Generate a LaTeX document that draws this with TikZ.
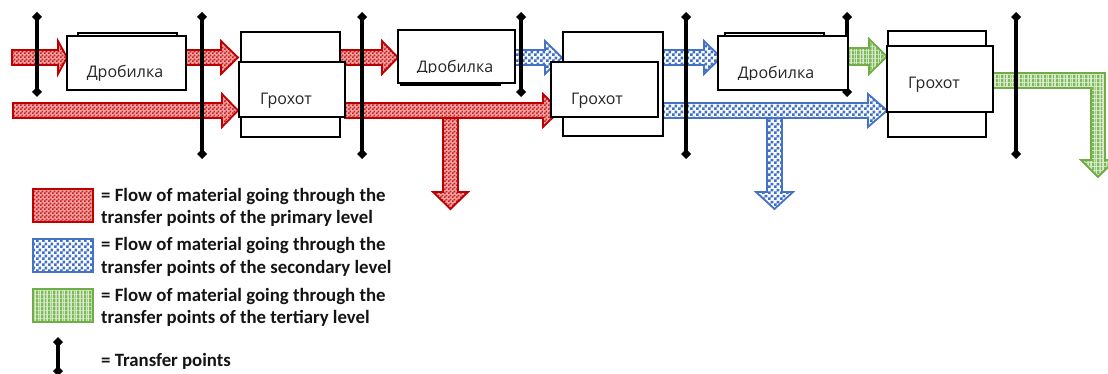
\documentclass[tikz,border=0pt]{standalone}
\usepackage{fontspec}
\setmainfont{Open Sans}
\newfontfamily\legendfont{Carlito}
\usetikzlibrary{patterns,arrows.meta}

\definecolor{redline}{HTML}{C00000}
\definecolor{redfill}{HTML}{F0A3A3}
\definecolor{redcheck}{HTML}{CC1E1E}
\definecolor{blueline}{HTML}{4472C4}
\definecolor{bluefill}{HTML}{FAFCFF}
\definecolor{bluecheck}{HTML}{3F6EC6}
\definecolor{greenline}{HTML}{70AD47}
\definecolor{greenfill}{HTML}{D9EBCD}
\definecolor{greenstripe}{HTML}{7DB859}
\definecolor{labelgray}{HTML}{262626}

% fine checkerboard, 2pt cells
\pgfdeclarepatternformonly{smallcheck}{\pgfpointorigin}{\pgfpoint{4pt}{4pt}}{\pgfpoint{4pt}{4pt}}{%
  \pgfpathrectangle{\pgfpointorigin}{\pgfpoint{2pt}{2pt}}%
  \pgfpathrectangle{\pgfpoint{2pt}{2pt}}{\pgfpoint{2pt}{2pt}}%
  \pgfusepath{fill}}
% coarse checkerboard, 3pt cells
\pgfdeclarepatternformonly{largecheck}{\pgfpointorigin}{\pgfpoint{6pt}{6pt}}{\pgfpoint{6pt}{6pt}}{%
  \pgfpathrectangle{\pgfpointorigin}{\pgfpoint{3pt}{3pt}}%
  \pgfpathrectangle{\pgfpoint{3pt}{3pt}}{\pgfpoint{3pt}{3pt}}%
  \pgfusepath{fill}}
% irregular vertical stripes
\pgfdeclarepatternformonly{barcode}{\pgfpointorigin}{\pgfpoint{12pt}{4pt}}{\pgfpoint{12pt}{4pt}}{%
  \pgfpathrectangle{\pgfpointorigin}{\pgfpoint{2pt}{4pt}}%
  \pgfpathrectangle{\pgfpoint{3pt}{0pt}}{\pgfpoint{1pt}{4pt}}%
  \pgfpathrectangle{\pgfpoint{5.5pt}{0pt}}{\pgfpoint{2.5pt}{4pt}}%
  \pgfpathrectangle{\pgfpoint{9.5pt}{0pt}}{\pgfpoint{1.5pt}{4pt}}%
  \pgfusepath{fill}}

\begin{document}
\begin{tikzpicture}[x=1pt,y=-1pt,
  primary/.style={preaction={fill=redfill}, pattern=smallcheck, pattern color=redcheck,
                  draw=redline, line width=1.8pt, miter limit=20},
  secondary/.style={preaction={fill=bluefill}, pattern=largecheck, pattern color=bluecheck,
                  draw=blueline, line width=1.8pt, miter limit=20},
  tertiary/.style={preaction={fill=greenfill}, pattern=barcode, pattern color=greenstripe,
                  draw=greenline, line width=1.8pt, miter limit=20},
  transfer/.style={line width=3.6pt, arrows={Turned Square[length=10pt,width=10pt]-Turned Square[length=10pt,width=10pt]}},
  backbox/.style={draw=black, line width=2.2pt, fill=white, inner sep=0pt, outer sep=0pt, anchor=north west},
  frontbox/.style={draw=black, line width=1.2pt, fill=white, inner sep=0pt, outer sep=0pt, anchor=north west},
  unit/.style={font=\fontsize{16}{19}\selectfont, text=labelgray, inner sep=0pt, anchor=base},
  legendtext/.style={font=\legendfont\bfseries\fontsize{18.8}{22}\selectfont, text=black!92, inner sep=0pt, anchor=base west},
]
\useasboundingbox (0,0) rectangle (1108,374);
\clip (0,0) rectangle (1108,374);

% ---- side branches (drawn first, the main streams pass over them)
\draw[primary]   (443,112) -- (443,192) -- (433,192) -- (450.5,209) -- (468,192) -- (458,192) -- (458,112) -- cycle;
\draw[secondary] (767,112) -- (767,192) -- (756,192) -- (774.5,209) -- (793,192) -- (782,192) -- (782,112) -- cycle;

% ---- primary streams
\draw[primary] (12,50) -- (58,50) -- (58,41) -- (67,57.5) -- (58,74) -- (58,65) -- (12,65) -- cycle;
\draw[primary] (186,50) -- (221,50) -- (221,41) -- (238,57.5) -- (221,74) -- (221,65) -- (186,65) -- cycle;
\draw[primary] (13,103) -- (222,103) -- (222,94) -- (238,110.5) -- (222,127) -- (222,118) -- (13,118) -- cycle;
\draw[primary] (340,50) -- (382,50) -- (382,41) -- (398,57.5) -- (382,74) -- (382,65) -- (340,65) -- cycle;
\draw[primary] (345,103) -- (543,103) -- (543,94) -- (560,110.5) -- (543,127) -- (543,118) -- (345,118) -- cycle;

% ---- secondary streams
\draw[secondary] (515,50) -- (545,50) -- (545,41) -- (562,57.5) -- (545,74) -- (545,65) -- (515,65) -- cycle;
\draw[secondary] (663,50) -- (704,50) -- (704,41) -- (721,57.5) -- (704,74) -- (704,65) -- (663,65) -- cycle;
\draw[secondary] (658,103) -- (868,103) -- (868,94) -- (887,110.5) -- (868,127) -- (868,118) -- (658,118) -- cycle;

% ---- tertiary streams
\draw[tertiary] (848,48) -- (869,48) -- (869,39) -- (887,56.5) -- (869,74) -- (869,65) -- (848,65) -- cycle;
\draw[tertiary] (993,73) -- (1105,73) -- (1105,160) -- (1115,160) -- (1098,177) -- (1081,160)
                -- (1091,160) -- (1091,88) -- (993,88) -- cycle;

% ---- transfer points
\foreach \n/\x/\yb in {1/37/97, 2/202/159, 3/362/159, 4/521/97, 5/686/159, 6/847/97, 7/1016/159}{
  \coordinate (tp\n top) at (\x,12);
  \coordinate (tp\n bot) at (\x,\yb);
  \draw[transfer] (tp\n top) -- (tp\n bot);
}

% ---- crushers and screens
\node[backbox,  minimum width=99pt,  minimum height=37pt]  (crusherAback)  at (78,33)  {};
\node[frontbox, minimum width=119pt, minimum height=54pt]  (crusherA)      at (67,36)  {};
\node[backbox,  minimum width=99pt,  minimum height=105pt] (screenAback)   at (241,32) {};
\node[frontbox, minimum width=106pt, minimum height=55pt]  (screenA)       at (239,62) {};

\node[backbox,  minimum width=99pt,  minimum height=35pt]  (crusherBback)  at (401,50) {};
\node[frontbox, minimum width=117pt, minimum height=53pt]  (crusherB)      at (398,30) {};
\node[backbox,  minimum width=100pt, minimum height=104pt] (screenBback)   at (563,32) {};
\node[frontbox, minimum width=107pt, minimum height=55pt]  (screenB)       at (551,62) {};

\node[backbox,  minimum width=99pt,  minimum height=37pt]  (crusherCback)  at (725,33) {};
\node[frontbox, minimum width=130pt, minimum height=54pt]  (crusherC)      at (718,36) {};
\node[backbox,  minimum width=98pt,  minimum height=106pt] (screenCback)   at (888,31) {};
\node[frontbox, minimum width=106pt, minimum height=66pt]  (screenC)       at (887,46) {};

\node[unit] (crusherAlabel) at (125,78) {Дробилка};
\begin{scope}
  \clip (398,30) rectangle (515,73);
  \node[unit] (crusherBlabel) at (455,72.5) {Дробилка};
\end{scope}
\begin{scope}
  \clip (718,36) rectangle (848,80);
  \node[unit] (crusherClabel) at (776,79) {Дробилка};
\end{scope}
\node[unit] (screenAlabel) at (286,105) {Грохот};
\node[unit] (screenBlabel) at (597,105) {Грохот};
\node[unit] (screenClabel) at (934,89)  {Грохот};

% ---- legend
\node[primary,   inner sep=0pt, outer sep=0pt, anchor=north west, minimum width=60pt, minimum height=33pt] (keyprimary)   at (33,189) {};
\node[secondary, inner sep=0pt, outer sep=0pt, anchor=north west, minimum width=60pt, minimum height=33pt] (keysecondary) at (33,239) {};
\node[tertiary,  inner sep=0pt, outer sep=0pt, anchor=north west, minimum width=60pt, minimum height=33pt] (keytertiary)  at (33,289) {};

\node[legendtext] (keyprimaryA)   at (101,201) {= Flow of material going through the};
\node[legendtext] (keyprimaryB)   at (101,223) {transfer points of the primary level};
\node[legendtext] (keysecondaryA) at (101,251) {= Flow of material going through the};
\node[legendtext] (keysecondaryB) at (101,273) {transfer points of the secondary level};
\node[legendtext] (keytertiaryA)  at (101,301) {= Flow of material going through the};
\node[legendtext] (keytertiaryB)  at (101,323) {transfer points of the tertiary level};

\coordinate (keytptop) at (58,337);
\coordinate (keytpbot) at (58,376);
\draw[transfer] (keytptop) -- (keytpbot);
\node[legendtext] (keytransfer) at (101,366) {= Transfer points};
\end{tikzpicture}
\end{document}
